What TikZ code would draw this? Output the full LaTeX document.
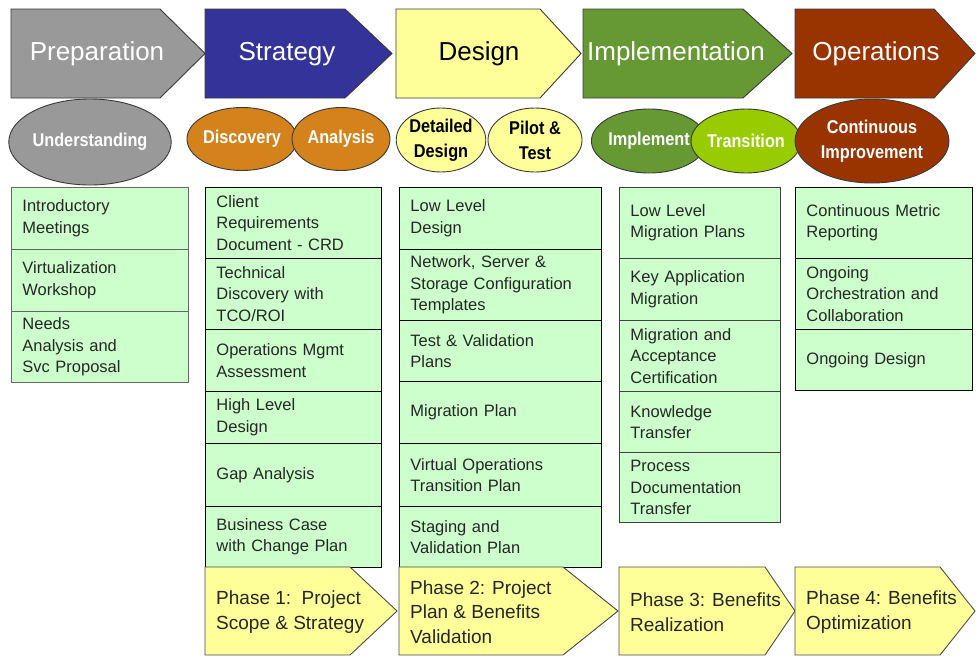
\documentclass[tikz,border=0pt]{standalone}
\usepackage{fontspec}
\setmainfont{Liberation Sans}
\newfontfamily\ovalfont[FakeStretch=0.88]{Liberation Sans}
\usetikzlibrary{shapes.geometric}

\definecolor{prepgray}{HTML}{999999}
\definecolor{stratblue}{HTML}{333399}
\definecolor{designyel}{HTML}{FFFF99}
\definecolor{implgreen}{HTML}{669933}
\definecolor{opsbrown}{HTML}{993300}
\definecolor{discorange}{HTML}{D4821C}
\definecolor{transgreen}{HTML}{99CC00}
\definecolor{cellgreen}{HTML}{CCFFCC}
\definecolor{edgegray}{HTML}{3A3A3A}

% arrow-shaped stage banner: left, point start, tip, top, bottom, style
\newcommand\stagearrow[6]{%
  \path[#6] (#1,#4) -- (#2,#4) -- (#3,{(#4+#5)/2}) -- (#2,#5) -- (#1,#5) -- cycle;}

\begin{document}
\begin{tikzpicture}[x=1pt,y=-1pt,
  banner/.style={draw=edgegray,line width=0.9pt,line join=miter},
  bannertext/.style={font=\fontsize{26}{30}\selectfont,inner sep=0pt},
  oval/.style={ellipse,draw=edgegray,line width=0.9pt,inner sep=0pt,align=center,
    font=\ovalfont\fontsize{18.5}{25}\selectfont\bfseries},
  cell/.style={draw=black,line width=0.9pt,fill=cellgreen,anchor=north west,
    inner xsep=11pt,inner ysep=2pt,align=left,
    font=\fontsize{16.5}{21.5}\selectfont,text=black!85},
  colA/.style={cell,text width=155pt},
  colB/.style={cell,text width=154pt},
  colC/.style={cell,text width=180pt},
  colD/.style={cell,text width=139pt},
  colE/.style={cell,text width=155pt},
  phasetext/.style={anchor=west,align=left,inner sep=0pt,
    font=\fontsize{19}{24.5}\selectfont,text=black!85}]

\fill[white] (0,0) rectangle (976,656);
\useasboundingbox (0,0) rectangle (976,656);

% ---- stage banners ----
\stagearrow{11}{160}{205}{9}{98}{banner,fill=prepgray}
\stagearrow{205}{345}{392}{9}{98}{banner,fill=stratblue}
\stagearrow{396}{540}{581}{9}{98}{banner,fill=designyel}
\stagearrow{583}{743}{792}{9}{98}{banner,fill=implgreen}
\stagearrow{795}{934}{975}{9}{98}{banner,fill=opsbrown}

\node[bannertext,text=white] (prep) at (97,54) {Preparation};
\node[bannertext,text=white] (strat) at (287,54) {Strategy};
\node[bannertext,text=black] (design) at (479,54) {Design};
\node[bannertext,text=white] (impl) at (676,54) {Implementation};
\node[bannertext,text=white] (ops) at (876,54) {Operations};

% ---- activity ovals ----
\node[oval,fill=prepgray,text=white,minimum width=159pt,minimum height=86pt] (understanding) at (90,142) {Understanding};
\node[oval,fill=discorange,text=white,minimum width=94pt,minimum height=63pt] (discovery) at (242,139) {Discovery};
\node[oval,fill=discorange,text=white,minimum width=98pt,minimum height=63pt] (analysis) at (341,139) {Analysis};
\node[oval,fill=designyel,text=black,minimum width=89pt,minimum height=64pt] (detailed) at (441,140) {Detailed\\Design};
\node[oval,fill=designyel,text=black,minimum width=94pt,minimum height=64pt] (pilot) at (535,140) {Pilot \&\\Test};
\node[oval,fill=implgreen,text=white,minimum width=96pt,minimum height=64pt] (implement) at (649,141) {Implement};
\node[oval,fill=transgreen,text=white,minimum width=97pt,minimum height=64pt] (transition) at (746,141) {Transition};
\node[oval,fill=opsbrown,text=white,minimum width=154pt,minimum height=84pt] (continuous) at (872,141) {Continuous\\Improvement};

% ---- deliverables: Preparation ----
\node[colA,draw=black!60,minimum height=62pt] (a1) at (11,187) {Introductory\\Meetings};
\node[colA,draw=black!60,minimum height=62pt] (a2) at (11,249) {Virtualization\\Workshop};
\node[colA,draw=black!60,minimum height=71pt] (a3) at (11,311) {Needs\\Analysis and\\Svc Proposal};

% ---- deliverables: Strategy ----
\node[colB,minimum height=71pt] (b1) at (205,187) {Client\\Requirements\\Document - CRD};
\node[colB,minimum height=71pt] (b2) at (205,258) {Technical\\Discovery with\\TCO/ROI};
\node[colB,minimum height=62pt] (b3) at (205,329) {Operations Mgmt\\Assessment};
\node[colB,minimum height=52pt] (b4) at (205,391) {High Level\\Design};
\node[colB,minimum height=63pt] (b5) at (205,443) {Gap Analysis};
\node[colB,minimum height=61pt] (b6) at (205,506) {Business Case\\with Change Plan};

% ---- deliverables: Design ----
\node[colC,minimum height=62pt] (c1) at (399,187) {Low Level\\Design};
\node[colC,minimum height=71pt] (c2) at (399,249) {Network, Server \&\\Storage Configuration\\Templates};
\node[colC,minimum height=61pt] (c3) at (399,320) {Test \& Validation\\Plans};
\node[colC,minimum height=62pt] (c4) at (399,381) {Migration Plan};
\node[colC,minimum height=63pt] (c5) at (399,443) {Virtual Operations\\Transition Plan};
\node[colC,minimum height=61pt] (c6) at (399,506) {Staging and\\Validation Plan};

% ---- deliverables: Implementation ----
\node[colD,draw=black!75,minimum height=71pt] (d1) at (619,187) {Low Level\\Migration Plans};
\node[colD,draw=black!75,minimum height=62pt] (d2) at (619,258) {Key Application\\Migration};
\node[colD,draw=black!75,minimum height=71pt] (d3) at (619,320) {Migration and\\Acceptance\\Certification};
\node[colD,draw=black!75,minimum height=61pt] (d4) at (619,391) {Knowledge\\Transfer};
\node[colD,draw=black!75,minimum height=70pt] (d5) at (619,452) {Process\\Documentation\\Transfer};

% ---- deliverables: Operations ----
\node[colE,minimum height=71pt] (e1) at (795,187) {Continuous Metric\\Reporting};
\node[colE,minimum height=71pt] (e2) at (795,258) {Ongoing\\Orchestration and\\Collaboration};
\node[colE,minimum height=61pt] (e3) at (795,329) {Ongoing Design};

% ---- phase banners ----
\stagearrow{205}{350}{397}{567}{655}{banner,draw=black!70,fill=designyel}
\stagearrow{399}{563}{618}{567}{655}{banner,draw=black!70,fill=designyel}
\stagearrow{619}{765}{795}{567}{655}{banner,draw=black!70,fill=designyel}
\stagearrow{795}{940}{975}{567}{655}{banner,draw=black!70,fill=designyel}

\node[phasetext] (p1) at (216,612) {Phase 1:\ \ Project\\Scope \& Strategy};
\node[phasetext] (p2) at (410,612) {Phase 2: Project\\Plan \& Benefits\\Validation};
\node[phasetext] (p3) at (630,612) {Phase 3: Benefits\\Realization};
\node[phasetext] (p4) at (806,612) {Phase 4: Benefits\\Optimization};

\end{tikzpicture}
\end{document}
